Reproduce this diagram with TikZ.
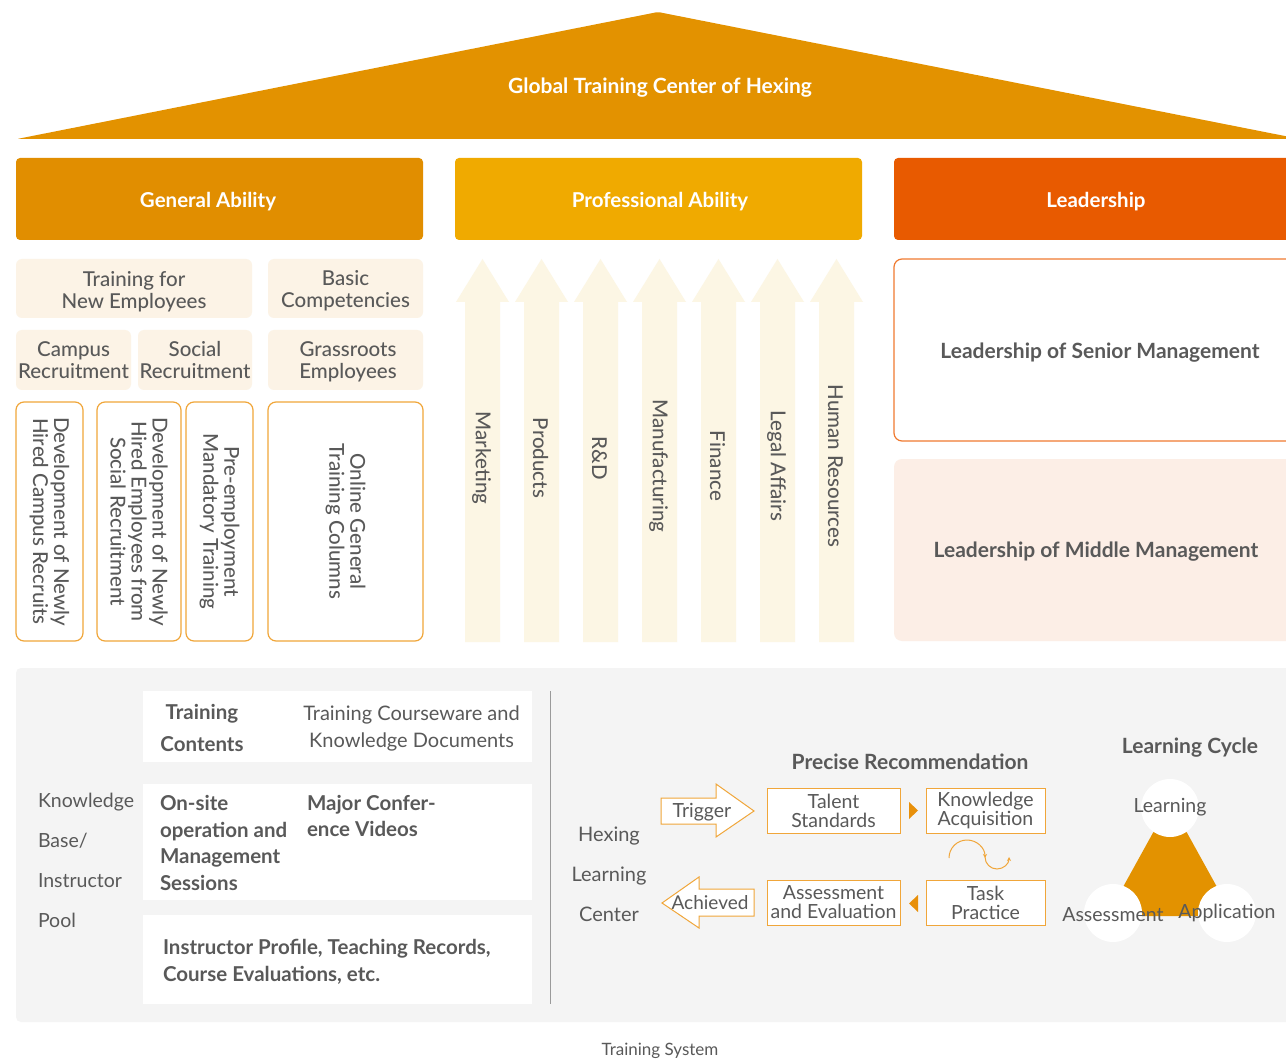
\documentclass[tikz,border=0pt]{standalone}
\usepackage{fontspec}
\setmainfont{Lato}
\newfontfamily\latomed{Lato Medium}
\usetikzlibrary{arrows.meta}
\definecolor{roof}{HTML}{E39200}
\definecolor{genab}{HTML}{E18E00}
\definecolor{profab}{HTML}{F0AA00}
\definecolor{lead}{HTML}{E85A00}
\definecolor{lbfill}{HTML}{FCF3E6}
\definecolor{arrfill}{HTML}{FCF6E4}
\definecolor{ostroke}{HTML}{F0A63A}
\definecolor{sstroke}{HTML}{F07A30}
\definecolor{midfill}{HTML}{FCEEE6}
\definecolor{panel}{HTML}{F4F4F4}
\definecolor{txt}{HTML}{595959}
\definecolor{divc}{HTML}{9A9A9A}
\definecolor{tri}{HTML}{E8900A}
\begin{document}
\begin{tikzpicture}[x=1pt,y=-1pt,
  every node/.style={inner sep=0pt,outer sep=0pt,text=txt,align=center},
  hdr/.style={rounded corners=4pt,text=white,font=\fontsize{20.5}{22}\selectfont\bfseries},
  lbox/.style={fill=lbfill,rounded corners=6pt},
  ltext/.style={font=\latomed\fontsize{20.5}{22}\selectfont},
  obox/.style={draw=ostroke,line width=1.2pt,rounded corners=8pt,fill=white},
  vtext/.style={rotate=-90,font=\latomed\fontsize{20.5}{21}\selectfont},
  atext/.style={rotate=-90,font=\latomed\fontsize{20.5}{22}\selectfont},
  wbox/.style={fill=white},
  btxt/.style={font=\fontsize{20.5}{26.5}\selectfont\bfseries},
  rtxt/.style={font=\fontsize{20}{27}\selectfont},
  fbox/.style={draw=ostroke,line width=1pt,fill=white,font=\fontsize{19.5}{19}\selectfont},
  farrow/.style={draw=ostroke,line width=1pt,fill=white},
  cyc/.style={draw=ostroke,line width=1pt,-{Stealth[length=4pt,width=4pt]}},
  side/.style={font=\fontsize{19.5}{22}\selectfont},
  ltitle/.style={font=\fontsize{21}{22}\selectfont\bfseries},
  cyctxt/.style={font=\fontsize{19.5}{22}\selectfont}
]
\useasboundingbox (0,0) rectangle (1286,1059);
\fill[white] (0,0) rectangle (1286,1059);

% roof
\fill[roof,rounded corners=2pt] (17,139) -- (658,12) -- (1300,139) -- cycle;
\node[font=\fontsize{21}{22}\selectfont\bfseries,text=white] (roofT) at (660,88) {Global Training Center of Hexing};

% headers
\node[hdr,fill=genab,minimum width=407pt,minimum height=82pt] (gen) at (219.5,199) {};
\node[hdr,fill=profab,minimum width=407pt,minimum height=82pt] (prof) at (658.5,199) {};
\node[hdr,fill=lead,minimum width=404pt,minimum height=82pt] (lead) at (1096,199) {};
\node[hdr] (genT) at (208,202) {General Ability};
\node[hdr] (profT) at (660,202) {Professional Ability};
\node[hdr] (leadT) at (1096,202) {Leadership};

% general ability light boxes
\node[lbox,minimum width=236pt,minimum height=59pt] (tne) at (134,288.5) {};
\node[lbox,minimum width=155pt,minimum height=59pt] (basic) at (345.5,288.5) {};
\node[lbox,minimum width=115pt,minimum height=60pt] (campus) at (73.5,360) {};
\node[lbox,minimum width=114pt,minimum height=60pt] (social) at (195,360) {};
\node[lbox,minimum width=155pt,minimum height=60pt] (grass) at (345.5,360) {};
\node[ltext] (tneT) at (134,291.5) {Training for\\New Employees};
\node[ltext] (basicT) at (345.5,291) {Basic\\Competencies};
\node[ltext] (campusT) at (73.5,360.5) {Campus\\Recruitment};
\node[ltext] (socialT) at (195,360.5) {Social\\Recruitment};
\node[ltext] (grassT) at (348,362) {Grassroots\\Employees};

% orange outlined boxes
\node[obox,minimum width=67pt,minimum height=239pt] (b1) at (49.5,521.5) {};
\node[obox,minimum width=84pt,minimum height=239pt] (b2) at (139,521.5) {};
\node[obox,minimum width=67pt,minimum height=239pt] (b3) at (219.5,521.5) {};
\node[obox,minimum width=155pt,minimum height=239pt] (b4) at (345.5,521.5) {};
\node[vtext] (t1) at (b1.center) {Development of Newly\\Hired Campus Recruits};
\node[vtext] (t2) at (b2.center) {Development of Newly\\Hired Employees from\\Social Recruitment};
\node[vtext] (t3) at (b3.center) {Pre-employment\\Mandatory Training};
\node[vtext] (t4) at (b4.center) {Online General\\Training Columns};

% professional arrows
\foreach \i/\lab/\ty in {0/Marketing/458,1/Products/458,2/R\&D/458,3/Manufacturing/466,4/Finance/466,5/Legal Affairs/466,6/Human Resources/466}{
  \pgfmathsetmacro\cx{482.5+59*\i}
  \fill[arrfill] ({\cx-17.5},642) -- ({\cx-17.5},302) -- ({\cx-26.5},302) -- (\cx,259) -- ({\cx+26.5},302) -- ({\cx+17.5},302) -- ({\cx+17.5},642) -- cycle;
  \node[atext] (arr\i) at ({\cx-1},\ty) {\lab};
}

% leadership boxes
\node[draw=sstroke,line width=1.2pt,rounded corners=8pt,fill=white,minimum width=404pt,minimum height=182pt] (senior) at (1096,350) {};
\node[font=\fontsize{21}{22}\selectfont\bfseries] (seniorT) at (1100,353) {Leadership of Senior Management};
\node[fill=midfill,rounded corners=8pt,minimum width=404pt,minimum height=182pt] (middle) at (1096,550) {};
\node[font=\fontsize{21}{22}\selectfont\bfseries] (middleT) at (1096,552) {Leadership of Middle Management};

% bottom panel
\fill[panel,rounded corners=5pt] (16,668) rectangle (1300,1022);
\node[wbox,minimum width=389pt,minimum height=71pt] (w1) at (337.5,726.5) {};
\node[wbox,minimum width=389pt,minimum height=116pt] (w2) at (337.5,842) {};
\node[wbox,minimum width=389pt,minimum height=89pt] (w3) at (337.5,959.5) {};
\node[font=\fontsize{20.5}{32}\selectfont\bfseries] (tc) at (202,728) {Training\\Contents};
\node[rtxt] (tcw) at (411.5,728) {Training Courseware and\\Knowledge Documents};
\node[btxt,align=left,anchor=west] (ons) at (160,843) {On-site\\operation and\\Management\\Sessions};
\node[btxt,align=left,anchor=west] (mcv) at (307,816) {Major Confer-\\ence Videos};
\node[btxt,align=left,anchor=west] (ipr) at (163,962) {Instructor Profile, Teaching Records,\\Course Evaluations, etc.};
\node[side,align=left,anchor=west,font=\fontsize{19.5}{40}\selectfont] (kb) at (38,860) {Knowledge\\Base/\\Instructor\\Pool};

\draw[divc,line width=1pt] (550,691) -- (550,1004);

\node[side,font=\fontsize{20}{40}\selectfont] (hlc) at (609,874) {Hexing\\Learning\\Center};
\node[ltitle] (prec) at (910,762) {Precise Recommendation};

% flow
\path[farrow] (661,798) -- (716,798) -- (716,784) -- (754,811) -- (716,837) -- (716,824) -- (661,824) -- cycle;
\node[font=\fontsize{19.5}{22}\selectfont] (trig) at (702,812) {Trigger};
\node[fbox,minimum width=133pt,minimum height=45pt] (ts) at (833.5,810.5) {Talent\\Standards};
\node[fbox,minimum width=119pt,minimum height=45pt] (ka) at (985.5,810.5) {Knowledge\\Acquisition};
\node[fbox,minimum width=119pt,minimum height=45pt] (tp) at (985.5,902.5) {Task\\Practice};
\node[fbox,minimum width=133pt,minimum height=45pt] (ae) at (833.5,902.5) {Assessment\\and Evaluation};
\path[farrow] (754,889) -- (699,889) -- (699,877) -- (662,903) -- (699,928) -- (699,916) -- (754,916) -- cycle;
\node[font=\fontsize{19}{22}\selectfont] (ach) at (710,903) {Achieved};
\fill[tri] (909,802) -- (918,810.5) -- (909,819) -- cycle;
\fill[tri] (918,895) -- (909,903.5) -- (918,912) -- cycle;
\draw[cyc] (949,858) arc[start angle=180,end angle=360,radius=18];
\draw[cyc] (985,857) arc[start angle=180,end angle=0,radius=12];

% learning cycle
\node[ltitle] (lct) at (1190,748) {Learning Cycle};
\fill[roof] (1170,802) -- (1233,916) -- (1107,916) -- cycle;
\fill[white] (1170,808) circle[radius=29];
\fill[white] (1113,913) circle[radius=29];
\fill[white] (1227,913) circle[radius=29];
\node[cyctxt] (lcl) at (1170,807) {Learning};
\node[cyctxt] (lca) at (1113,915) {Assessment};
\node[cyctxt] (lcp) at (1227,913) {Application};

\node[font=\fontsize{17}{18}\selectfont] (cap) at (660,1051) {Training System};
\end{tikzpicture}
\end{document}
